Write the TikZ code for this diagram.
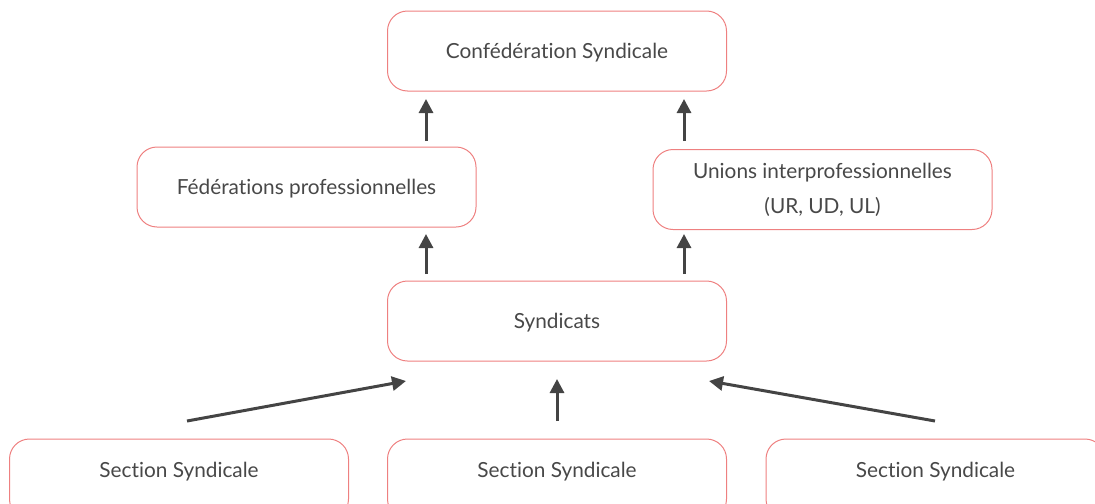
\documentclass[tikz,border=0pt]{standalone}
\usepackage{fontspec}
\setmainfont{Lato}[Ligatures=NoCommon]
\usepackage{xcolor}
\usetikzlibrary{arrows.meta}
\definecolor{boxred}{HTML}{EE8080}
\definecolor{txtgray}{HTML}{484848}
\definecolor{arrgray}{HTML}{444444}

\begin{document}
\begin{tikzpicture}[x=0.5pt,y=-0.5pt,
  box/.style={draw=boxred,line width=0.5pt,rounded corners=10pt,
    minimum width=169.5pt,minimum height=40pt,text=txtgray,
    font=\fontsize{10.4}{17.5}\selectfont,align=center},
  onebox/.style={box,text height=9.6pt,text depth=2.2pt},
  secbox/.style={box,text height=7.6pt,text depth=9.2pt},
  arr/.style={draw=arrgray,line width=1.5pt,-{Triangle[length=7pt,width=7pt]}}]
\path[clip] (0,0) rectangle (1095,503);
\useasboundingbox (0,0) rectangle (1095,503);
% boxes
\node[onebox] (conf) at (557,51) {Confédération Syndicale};
\node[onebox] (fed) at (306.5,187) {Fédérations professionnelles};
\node[box] (unions) at (822.5,189.5) {Unions interprofessionnelles\\(UR, UD, UL)};
\node[onebox] (synd) at (557,321) {Syndicats};
\node[secbox] (sec1) at (179,479) {Section Syndicale};
\node[secbox] (sec2) at (557,479) {Section Syndicale};
\node[secbox] (sec3) at (935.5,479) {Section Syndicale};
% arrow ends
\coordinate (fedout) at (426,141);
\coordinate (confinl) at (426,99);
\coordinate (unout) at (684,141);
\coordinate (confinr) at (684,99);
\coordinate (syndoutl) at (426,274);
\coordinate (fedin) at (426,234);
\coordinate (syndoutr) at (684,274);
\coordinate (unin) at (684,234);
\coordinate (secout1) at (187,421);
\coordinate (syndin1) at (406,381);
\coordinate (secout2) at (557,421);
\coordinate (syndin2) at (557,379);
\coordinate (secout3) at (935,421);
\coordinate (syndin3) at (709,381);
\draw[arr] (fedout) -- (confinl);
\draw[arr] (unout) -- (confinr);
\draw[arr] (syndoutl) -- (fedin);
\draw[arr] (syndoutr) -- (unin);
\foreach \i in {1,2,3} {
\draw[arr] (secout\i) -- (syndin\i);
}
\end{tikzpicture}
\end{document}
